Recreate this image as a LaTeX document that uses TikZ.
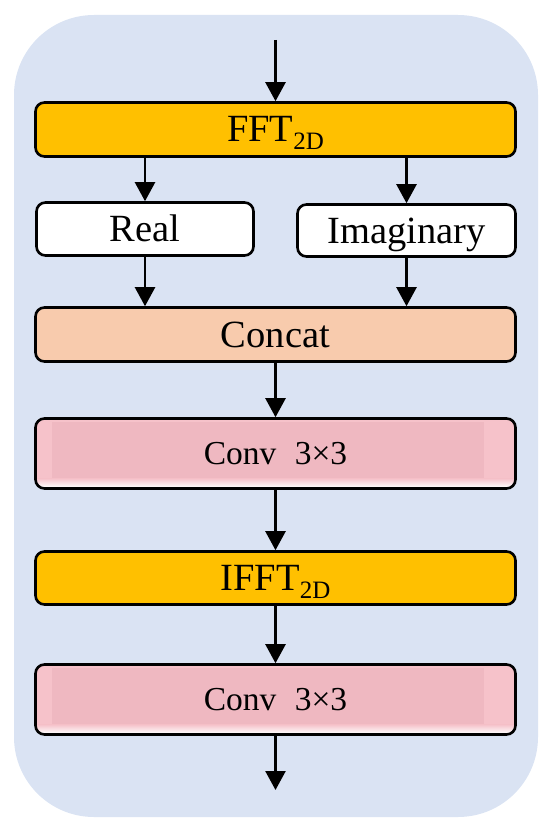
\documentclass[tikz,border=0pt]{standalone}
\usepackage{fontspec}
\setmainfont{Liberation Serif}
\usetikzlibrary{arrows.meta}
\definecolor{bgblue}{HTML}{DAE3F3}
\definecolor{fftgold}{HTML}{FFC000}
\definecolor{concatpeach}{HTML}{F8CBAD}
\definecolor{convmid}{HTML}{EFB8C1}
\definecolor{convedge}{HTML}{F6C2CA}
\begin{document}
\begin{tikzpicture}[x=1pt,y=-1pt,
  box/.style={draw=black, line width=2.6pt, rounded corners=9pt, inner sep=0pt, text depth=0pt, align=center},
  bigtext/.style={font=\fontsize{38.5}{40}\selectfont, text height=25pt},
  convtext/.style={font=\fontsize{33.5}{36}\selectfont, text height=22pt},
  flow/.style={line width=2.4pt, -{Triangle[width=20pt,length=19pt]}},
  convbox/.style={box, convtext, fill=convmid, minimum width=480pt, minimum height=70pt,
    path picture={
      \fill[convedge, sharp corners] (path picture bounding box.south west) rectangle (path picture bounding box.north east);
      \fill[convmid, sharp corners] ([xshift=16pt,yshift=-3pt]path picture bounding box.north west) rectangle ([xshift=-32pt,yshift=10pt]path picture bounding box.south east);
      \shade[sharp corners, top color=convedge, bottom color=white] ([yshift=10pt]path picture bounding box.south west) rectangle ([yshift=1pt]path picture bounding box.south east);
    }},
  widebox/.style={box, bigtext, minimum width=480pt, minimum height=54pt}
]
\useasboundingbox (0,0) rectangle (550,829);
\fill[bgblue, rounded corners=80pt] (14,15) rectangle (538,817);

\node[widebox, fill=fftgold] (fft) at (275.5,129.5) {FFT\raisebox{-8pt}{\fontsize{25}{25}\selectfont 2D}};
\node[box, bigtext, fill=white, minimum width=217pt, minimum height=53pt] (real) at (145,229) {Real};
\node[box, bigtext, fill=white, minimum width=218pt, minimum height=52pt] (imag) at (406.5,230.5) {Imaginary};
\node[widebox, fill=concatpeach] (concat) at (275.5,334.5) {Concat};
\node[convbox] (conv1) at (275.5,453.5) {Conv\hspace{0.55em}3×3};
\node[widebox, fill=fftgold, minimum height=53pt] (ifft) at (275.5,578) {IFFT\raisebox{-8pt}{\fontsize{25}{25}\selectfont 2D}};
\node[convbox] (conv2) at (275.5,699.5) {Conv\hspace{0.55em}3×3};

\coordinate (in) at (275.5,40);
\coordinate (out) at (275.5,790);

\draw[flow] (in) -- (fft.north);
\draw[flow] (fft.south -| real) -- (real.north);
\draw[flow] (fft.south -| imag) -- (imag.north);
\draw[flow] (real.south) -- (real.south |- concat.north);
\draw[flow] (imag.south) -- (imag.south |- concat.north);
\draw[flow] (concat.south) -- (conv1.north);
\draw[flow] (conv1.south) -- (ifft.north);
\draw[flow] (ifft.south) -- (conv2.north);
\draw[flow] (conv2.south) -- (out);
\end{tikzpicture}
\end{document}
